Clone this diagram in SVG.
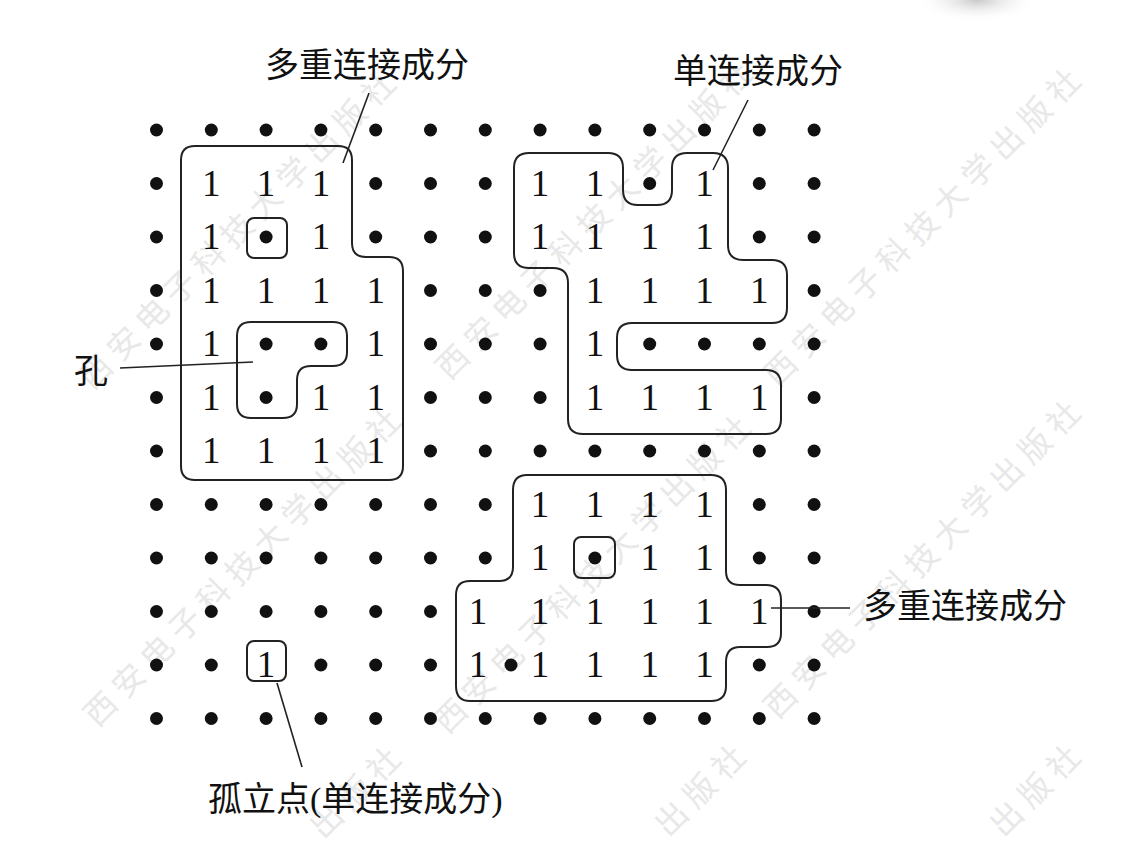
<svg xmlns="http://www.w3.org/2000/svg" width="1125" height="845" viewBox="0 0 1125 845">
<defs>
<style>
.dot{fill:#111}
.one{font-family:"Liberation Serif",serif;font-size:37px;text-anchor:middle;fill:#111}
.outline{fill:none;stroke:#222;stroke-width:2}
.lead{stroke:#222;stroke-width:1.6;fill:none}
.lbl{font-family:"Noto Sans CJK SC",sans-serif;font-size:34px;fill:#111}
.wm{font-family:"Noto Sans CJK SC",sans-serif;font-size:32px;fill:#e8e8e8;letter-spacing:8px;text-anchor:middle}
</style>
<radialGradient id="shadow" cx="0.5" cy="0.5" r="0.5">
<stop offset="0" stop-color="#c8c8c8"/>
<stop offset="1" stop-color="#ffffff" stop-opacity="0"/>
</radialGradient>
</defs>
<rect x="0" y="0" width="1125" height="845" fill="#ffffff"/>
<ellipse cx="977" cy="0" rx="62" ry="22" fill="url(#shadow)"/>
<g id="watermarks">
<text class="wm" transform="translate(240,228) rotate(-45)" y="11">西安电子科技大学出版社</text>
<text class="wm" transform="translate(597,218) rotate(-45)" y="11">西安电子科技大学出版社</text>
<text class="wm" transform="translate(925,225) rotate(-45)" y="11">西安电子科技大学出版社</text>
<text class="wm" transform="translate(245,565) rotate(-45)" y="11">西安电子科技大学出版社</text>
<text class="wm" transform="translate(595,572) rotate(-45)" y="11">西安电子科技大学出版社</text>
<text class="wm" transform="translate(925,557) rotate(-45)" y="11">西安电子科技大学出版社</text>
<text class="wm" transform="translate(358,790) rotate(-45)" y="11">出版社</text>
<text class="wm" transform="translate(703,788) rotate(-45)" y="11">出版社</text>
<text class="wm" transform="translate(1038,788) rotate(-45)" y="11">出版社</text>
</g>
<g id="grid-dots">
<circle class="dot" cx="156.5" cy="130" r="6.5"/><circle class="dot" cx="211.3" cy="130" r="6.5"/><circle class="dot" cx="266.1" cy="130" r="6.5"/><circle class="dot" cx="320.9" cy="130" r="6.5"/><circle class="dot" cx="375.7" cy="130" r="6.5"/><circle class="dot" cx="430.5" cy="130" r="6.5"/><circle class="dot" cx="485.3" cy="130" r="6.5"/><circle class="dot" cx="540.1" cy="130" r="6.5"/><circle class="dot" cx="594.9" cy="130" r="6.5"/><circle class="dot" cx="649.7" cy="130" r="6.5"/><circle class="dot" cx="704.5" cy="130" r="6.5"/><circle class="dot" cx="759.3" cy="130" r="6.5"/><circle class="dot" cx="814.1" cy="130" r="6.5"/>
<circle class="dot" cx="156.5" cy="183.5" r="6.5"/><circle class="dot" cx="375.7" cy="183.5" r="6.5"/><circle class="dot" cx="430.5" cy="183.5" r="6.5"/><circle class="dot" cx="485.3" cy="183.5" r="6.5"/><circle class="dot" cx="649.7" cy="183.5" r="6.5"/><circle class="dot" cx="759.3" cy="183.5" r="6.5"/><circle class="dot" cx="814.1" cy="183.5" r="6.5"/>
<circle class="dot" cx="156.5" cy="237" r="6.5"/><circle class="dot" cx="266.1" cy="237" r="6.5"/><circle class="dot" cx="375.7" cy="237" r="6.5"/><circle class="dot" cx="430.5" cy="237" r="6.5"/><circle class="dot" cx="485.3" cy="237" r="6.5"/><circle class="dot" cx="759.3" cy="237" r="6.5"/><circle class="dot" cx="814.1" cy="237" r="6.5"/>
<circle class="dot" cx="156.5" cy="290.5" r="6.5"/><circle class="dot" cx="430.5" cy="290.5" r="6.5"/><circle class="dot" cx="485.3" cy="290.5" r="6.5"/><circle class="dot" cx="540.1" cy="290.5" r="6.5"/><circle class="dot" cx="814.1" cy="290.5" r="6.5"/>
<circle class="dot" cx="156.5" cy="344" r="6.5"/><circle class="dot" cx="266.1" cy="344" r="6.5"/><circle class="dot" cx="320.9" cy="344" r="6.5"/><circle class="dot" cx="430.5" cy="344" r="6.5"/><circle class="dot" cx="485.3" cy="344" r="6.5"/><circle class="dot" cx="540.1" cy="344" r="6.5"/><circle class="dot" cx="649.7" cy="344" r="6.5"/><circle class="dot" cx="704.5" cy="344" r="6.5"/><circle class="dot" cx="759.3" cy="344" r="6.5"/><circle class="dot" cx="814.1" cy="344" r="6.5"/>
<circle class="dot" cx="156.5" cy="397.5" r="6.5"/><circle class="dot" cx="266.1" cy="397.5" r="6.5"/><circle class="dot" cx="430.5" cy="397.5" r="6.5"/><circle class="dot" cx="485.3" cy="397.5" r="6.5"/><circle class="dot" cx="540.1" cy="397.5" r="6.5"/><circle class="dot" cx="814.1" cy="397.5" r="6.5"/>
<circle class="dot" cx="156.5" cy="451" r="6.5"/><circle class="dot" cx="430.5" cy="451" r="6.5"/><circle class="dot" cx="485.3" cy="451" r="6.5"/><circle class="dot" cx="540.1" cy="451" r="6.5"/><circle class="dot" cx="594.9" cy="451" r="6.5"/><circle class="dot" cx="649.7" cy="451" r="6.5"/><circle class="dot" cx="704.5" cy="451" r="6.5"/><circle class="dot" cx="759.3" cy="451" r="6.5"/><circle class="dot" cx="814.1" cy="451" r="6.5"/>
<circle class="dot" cx="156.5" cy="504.5" r="6.5"/><circle class="dot" cx="211.3" cy="504.5" r="6.5"/><circle class="dot" cx="266.1" cy="504.5" r="6.5"/><circle class="dot" cx="320.9" cy="504.5" r="6.5"/><circle class="dot" cx="375.7" cy="504.5" r="6.5"/><circle class="dot" cx="430.5" cy="504.5" r="6.5"/><circle class="dot" cx="485.3" cy="504.5" r="6.5"/><circle class="dot" cx="759.3" cy="504.5" r="6.5"/><circle class="dot" cx="814.1" cy="504.5" r="6.5"/>
<circle class="dot" cx="156.5" cy="558" r="6.5"/><circle class="dot" cx="211.3" cy="558" r="6.5"/><circle class="dot" cx="266.1" cy="558" r="6.5"/><circle class="dot" cx="320.9" cy="558" r="6.5"/><circle class="dot" cx="375.7" cy="558" r="6.5"/><circle class="dot" cx="430.5" cy="558" r="6.5"/><circle class="dot" cx="485.3" cy="558" r="6.5"/><circle class="dot" cx="594.9" cy="558" r="6.5"/><circle class="dot" cx="759.3" cy="558" r="6.5"/><circle class="dot" cx="814.1" cy="558" r="6.5"/>
<circle class="dot" cx="156.5" cy="611.5" r="6.5"/><circle class="dot" cx="211.3" cy="611.5" r="6.5"/><circle class="dot" cx="266.1" cy="611.5" r="6.5"/><circle class="dot" cx="320.9" cy="611.5" r="6.5"/><circle class="dot" cx="375.7" cy="611.5" r="6.5"/><circle class="dot" cx="430.5" cy="611.5" r="6.5"/><circle class="dot" cx="814.1" cy="611.5" r="6.5"/>
<circle class="dot" cx="156.5" cy="665" r="6.5"/><circle class="dot" cx="211.3" cy="665" r="6.5"/><circle class="dot" cx="320.9" cy="665" r="6.5"/><circle class="dot" cx="375.7" cy="665" r="6.5"/><circle class="dot" cx="430.5" cy="665" r="6.5"/><circle class="dot" cx="511" cy="665" r="6.5"/><circle class="dot" cx="759.3" cy="665" r="6.5"/><circle class="dot" cx="814.1" cy="665" r="6.5"/>
<circle class="dot" cx="156.5" cy="718.5" r="6.5"/><circle class="dot" cx="211.3" cy="718.5" r="6.5"/><circle class="dot" cx="266.1" cy="718.5" r="6.5"/><circle class="dot" cx="320.9" cy="718.5" r="6.5"/><circle class="dot" cx="375.7" cy="718.5" r="6.5"/><circle class="dot" cx="430.5" cy="718.5" r="6.5"/><circle class="dot" cx="485.3" cy="718.5" r="6.5"/><circle class="dot" cx="540.1" cy="718.5" r="6.5"/><circle class="dot" cx="594.9" cy="718.5" r="6.5"/><circle class="dot" cx="649.7" cy="718.5" r="6.5"/><circle class="dot" cx="704.5" cy="718.5" r="6.5"/><circle class="dot" cx="759.3" cy="718.5" r="6.5"/><circle class="dot" cx="814.1" cy="718.5" r="6.5"/>
</g>
<g id="grid-ones">
<text class="one" x="211.3" y="195.5">1</text><text class="one" x="266.1" y="195.5">1</text><text class="one" x="320.9" y="195.5">1</text><text class="one" x="540.1" y="195.5">1</text><text class="one" x="594.9" y="195.5">1</text><text class="one" x="704.5" y="195.5">1</text>
<text class="one" x="211.3" y="249">1</text><text class="one" x="320.9" y="249">1</text><text class="one" x="540.1" y="249">1</text><text class="one" x="594.9" y="249">1</text><text class="one" x="649.7" y="249">1</text><text class="one" x="704.5" y="249">1</text>
<text class="one" x="211.3" y="302.5">1</text><text class="one" x="266.1" y="302.5">1</text><text class="one" x="320.9" y="302.5">1</text><text class="one" x="375.7" y="302.5">1</text><text class="one" x="594.9" y="302.5">1</text><text class="one" x="649.7" y="302.5">1</text><text class="one" x="704.5" y="302.5">1</text><text class="one" x="759.3" y="302.5">1</text>
<text class="one" x="211.3" y="356">1</text><text class="one" x="375.7" y="356">1</text><text class="one" x="594.9" y="356">1</text>
<text class="one" x="211.3" y="409.5">1</text><text class="one" x="320.9" y="409.5">1</text><text class="one" x="375.7" y="409.5">1</text><text class="one" x="594.9" y="409.5">1</text><text class="one" x="649.7" y="409.5">1</text><text class="one" x="704.5" y="409.5">1</text><text class="one" x="759.3" y="409.5">1</text>
<text class="one" x="211.3" y="463">1</text><text class="one" x="266.1" y="463">1</text><text class="one" x="320.9" y="463">1</text><text class="one" x="375.7" y="463">1</text>
<text class="one" x="540.1" y="516.5">1</text><text class="one" x="594.9" y="516.5">1</text><text class="one" x="649.7" y="516.5">1</text><text class="one" x="704.5" y="516.5">1</text>
<text class="one" x="540.1" y="570">1</text><text class="one" x="649.7" y="570">1</text><text class="one" x="704.5" y="570">1</text>
<text class="one" x="478" y="623.5">1</text><text class="one" x="540.1" y="623.5">1</text><text class="one" x="594.9" y="623.5">1</text><text class="one" x="649.7" y="623.5">1</text><text class="one" x="704.5" y="623.5">1</text><text class="one" x="759.3" y="623.5">1</text>
<text class="one" x="266.1" y="677">1</text><text class="one" x="478" y="677">1</text><text class="one" x="540.1" y="677">1</text><text class="one" x="594.9" y="677">1</text><text class="one" x="649.7" y="677">1</text><text class="one" x="704.5" y="677">1</text>
</g>
<g id="component-top-left">
<path class="outline" d="M195,146 H338 Q352,146 352,160 V243 Q352,257 366,257 H389 Q403,257 403,271 V466 Q403,480 389,480 H195 Q181,480 181,466 V160 Q181,146 195,146 Z"/>
<rect class="outline" x="247" y="218" width="40" height="40" rx="7"/>
<path class="outline" d="M251,322 H333 Q347,322 347,336 V352 Q347,366 333,366 H311 Q297,366 297,380 V404 Q297,418 283,418 H251 Q237,418 237,404 V336 Q237,322 251,322 Z"/>
</g>
<g id="component-top-right">
<path class="outline" d="M529,153 H608 Q623,153 623,168 V190 Q623,205 638,205 H657 Q672,205 672,190 V168 Q672,153 687,153 H713 Q728,153 728,168 V245 Q728,260 743,260 H772 Q787,260 787,275 V308 Q787,323 772,323 H632 Q617,323 617,338 V355 Q617,370 632,370 H766 Q781,370 781,385 V419 Q781,434 766,434 H583 Q568,434 568,419 V283 Q568,268 553,268 H529 Q514,268 514,253 V168 Q514,153 529,153 Z"/>
</g>
<g id="component-bottom-right">
<path class="outline" d="M527,475 H711 Q726,475 726,490 V571 Q726,585 740,585 H766 Q781,585 781,600 V633 Q781,647 767,647 H740 Q726,647 726,662 V686 Q726,701 711,701 H470 Q456,701 456,686 V595 Q456,581 470,581 H499 Q513,581 513,567 V490 Q513,475 527,475 Z"/>
<rect class="outline" x="574" y="537" width="41" height="41" rx="7"/>
</g>
<g id="isolated-point">
<rect class="outline" x="247" y="641" width="39" height="40" rx="7"/>
</g>
<g id="connectors">
<line class="lead" x1="369" y1="93" x2="343" y2="163"/>
<line class="lead" x1="748" y1="100" x2="713" y2="170"/>
<line class="lead" x1="120" y1="368" x2="253" y2="362"/>
<line class="lead" x1="771" y1="608" x2="850" y2="608"/>
<line class="lead" x1="277" y1="683" x2="302" y2="767"/>
</g>
<g id="labels">
<text class="lbl" x="265" y="77">多重连接成分</text>
<text class="lbl" x="673" y="83">单连接成分</text>
<text class="lbl" x="863" y="618">多重连接成分</text>
<text class="lbl" x="74" y="383">孔</text>
<text class="lbl" x="208" y="811">孤立点<tspan font-family="Liberation Serif, serif">(</tspan>单连接成分<tspan font-family="Liberation Serif, serif">)</tspan></text>
</g>
</svg>
